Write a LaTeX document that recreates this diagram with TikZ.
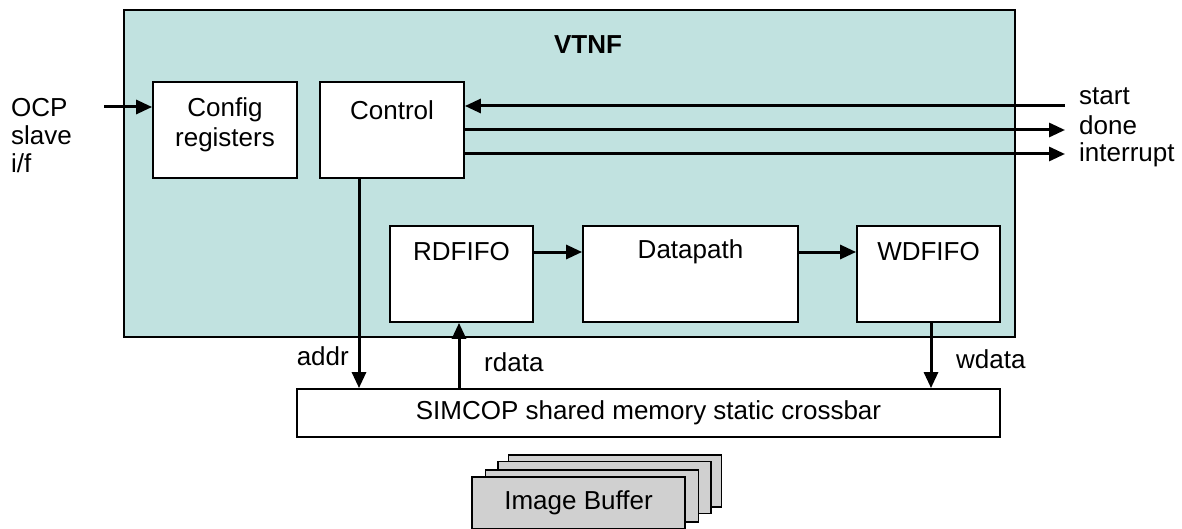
\documentclass[tikz,border=0pt]{standalone}
\usepackage{fontspec}
\setmainfont{Liberation Sans}
\usetikzlibrary{arrows.meta,calc}
\definecolor{vtnffill}{RGB}{193,226,224}
\definecolor{bufgray}{RGB}{208,208,208}
\begin{document}
\begin{tikzpicture}[x=1pt,y=-1pt,
  every node/.style={font=\fontsize{26}{30}\selectfont, inner sep=0pt},
  blk/.style={draw=black, line width=1.8pt, fill=white, minimum width=#1, minimum height=96pt},
  bufbox/.style={draw=black, line width=1.8pt, fill=bufgray, minimum width=213pt, minimum height=52pt},
  arr/.style={line width=3pt, -{Triangle[length=16pt,width=14pt]}},
  txt/.style={anchor=center},
  sig/.style={anchor=base west, text height=18pt, text depth=5pt}]
\useasboundingbox (0,0) rectangle (1182,529);
% VTNF container
\node[draw=black, line width=1.8pt, fill=vtnffill, minimum width=891pt, minimum height=327pt] (vtnf) at (569.5,173.5) {};
\node[font=\fontsize{26}{30}\selectfont\bfseries] (vtnftitle) at (588,45) {VTNF};
% blocks
\node[blk=144pt] (config) at (225,130) {};
\node[txt, align=center] (configtxt) at (225,125) {Config\\registers};
\node[blk=144pt] (control) at (392,130) {};
\node[txt] (controltxt) at (392,110) {Control};
\node[blk=143pt] (rdfifo) at (461.5,274) {};
\node[txt] (rdfifotxt) at (461.5,252) {RDFIFO};
\node[blk=215pt] (datapath) at (690.5,274) {};
\node[txt] (datapathtxt) at (690.5,252) {Datapath};
\node[blk=143pt] (wdfifo) at (928.5,274) {};
\node[txt] (wdfifotxt) at (928.5,252) {WDFIFO};
% crossbar
\node[draw=black, line width=1.8pt, fill=white, minimum width=703pt, minimum height=48pt] (xbar) at (648.5,413) {SIMCOP shared memory static crossbar};
% image buffers
\node[bufbox] (buf4) at (615,481) {};
\node[bufbox] (buf3) at (604.5,487.5) {};
\node[bufbox] (buf2) at (592,496) {};
\node[bufbox] (buf1) at (578.5,503) {Image Buffer};
% external labels
\node[anchor=base west, align=left, font=\fontsize{26}{28}\selectfont] (ocp) at (11,173) {OCP\\slave\\i/f};
\node[sig] (startlbl) at (1079,105) {start};
\node[sig] (donelbl) at (1079,135) {done};
\node[sig] (intlbl) at (1079,162) {interrupt};
\node[anchor=east] (addrlbl) at (349,356) {addr};
\node[anchor=west] (rdatalbl) at (484,362) {rdata};
\node[anchor=west] (wdatalbl) at (956,359) {wdata};
% coordinates for connector ends
\coordinate (ocpin) at (104,107);
\coordinate (startend) at (1065,106);
\coordinate (doneend) at (1065,130);
\coordinate (intend) at (1065,154);
\coordinate (addrx) at (359,0);
\coordinate (rdatax) at (459,0);
\coordinate (wdatax) at (931,0);
\coordinate (pathy) at (0,252);
% connectors
\draw[arr] (ocpin) -- (ocpin -| config.west);
\draw[arr] (startend) -- (startend -| control.east);
\draw[arr] (doneend -| control.east) -- (doneend);
\draw[arr] (intend -| control.east) -- (intend);
\draw[arr] (control.south -| addrx) -- (xbar.north -| addrx);
\draw[arr] (xbar.north -| rdatax) -- (rdfifo.south -| rdatax);
\draw[arr] (wdfifo.south -| wdatax) -- (xbar.north -| wdatax);
\draw[arr] (rdfifo.east |- pathy) -- (datapath.west |- pathy);
\draw[arr] (datapath.east |- pathy) -- (wdfifo.west |- pathy);
\end{tikzpicture}
\end{document}
